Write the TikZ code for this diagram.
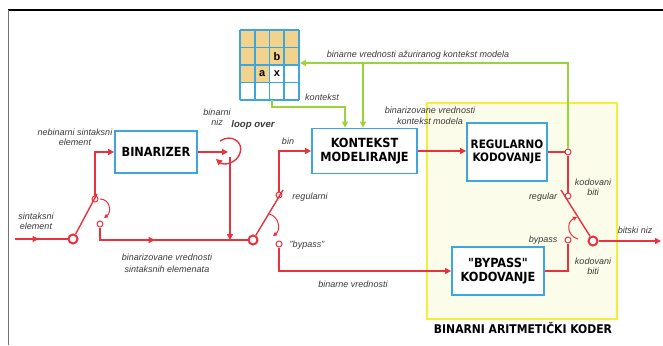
\documentclass[tikz,border=0pt]{standalone}
\usepackage{fontspec}
\setmainfont{Liberation Sans}
\newfontfamily\boxfont{DejaVu Sans Condensed}
\usetikzlibrary{arrows.meta,decorations.markings}
\definecolor{redl}{HTML}{E8333F}
\definecolor{bluel}{HTML}{3DA5E0}
\definecolor{greenl}{HTML}{98D43A}
\definecolor{yell}{HTML}{F2EE3A}
\definecolor{yellfill}{HTML}{FCFCEA}
\definecolor{tanc}{HTML}{F2D38E}
\definecolor{lbl}{HTML}{3A3A3A}
\tikzset{
  blk/.style={draw=bluel, line width=1.8pt, fill=white, font=\boxfont\bfseries\fontsize{12.6}{14}\selectfont, align=center, inner sep=0pt},
  rline/.style={draw=redl, line width=1.4pt},
  rarr/.style={rline, -{Triangle[length=6pt,width=6pt]}},
  rsm/.style={draw=redl, line width=1pt, -{Triangle[length=4pt,width=4pt]}},
  garr/.style={draw=greenl, line width=1.4pt, -{Triangle[length=6pt,width=6pt]}},
  midarr/.style={postaction={decorate}, decoration={markings, mark=at position #1 with {\arrow{Triangle[length=6pt,width=6pt]}}}},
  contact/.style={circle, draw=redl, line width=1pt, fill=white, minimum size=6pt, inner sep=0pt},
  pivot/.style={circle, draw=redl, line width=2pt, fill=white, minimum size=9pt, inner sep=0pt},
  lab/.style={font=\itshape\fontsize{9}{10}\selectfont, text=lbl, align=center, inner sep=0pt},
}
\begin{document}
\begin{tikzpicture}[x=1pt,y=-1pt]
\useasboundingbox (0,0) rectangle (663,345);
% frame
\draw[black, line width=1.2pt] (8,10) -- (663,10);
\draw[black!55, line width=1.6pt] (8.5,10) -- (8.5,345);

% yellow coder region
\node[draw=yell, fill=yellfill, line width=1.8pt, minimum width=190pt, minimum height=216pt, inner sep=0pt] (coder) at (522,211) {};
\node[font=\boxfont\bfseries\fontsize{12}{13}\selectfont, inner sep=0pt] (coderlab) at (523,328) {BINARNI ARITMETIČKI KODER};

% context grid
\node[minimum width=59pt, minimum height=70pt, inner sep=0pt] (grid) at (269.5,65) {};
\foreach \r/\cols in {0/{0,1,2,3},1/{0,1,2,3},2/{0,1}} {
  \foreach \c in \cols {
    \fill[tanc] (240+\c*14.75,30+\r*17.5) rectangle (240+\c*14.75+14.75,30+\r*17.5+17.5);
  }
}
\foreach \i in {0,1,2,3,4} {
  \draw[bluel, line width=1.6pt] (240+\i*14.75,30) -- (240+\i*14.75,100);
  \draw[bluel, line width=1.6pt] (240,30+\i*17.5) -- (299,30+\i*17.5);
}
\node[font=\bfseries\fontsize{11}{11}\selectfont] (cb) at (276.9,56.2) {b};
\node[font=\bfseries\fontsize{11}{11}\selectfont] (ca) at (262.1,73.7) {a};
\node[font=\bfseries\fontsize{11}{11}\selectfont] (cx) at (276.9,73.7) {x};

% blocks
\node[blk, minimum width=82pt, minimum height=42pt] (bin) at (156,152) {BINARIZER};
\node[blk, minimum width=105pt, minimum height=45pt] (ctx) at (364.5,151) {KONTEKST\\MODELIRANJE};
\node[blk, minimum width=80pt, minimum height=58pt, font=\boxfont\bfseries\fontsize{11.6}{13.5}\selectfont] (reg) at (507,152) {REGULARNO\\KODOVANJE};
\node[blk, minimum width=92pt, minimum height=48pt] (byp) at (498,271) {"BYPASS"\\KODOVANJE};

% switch 1
\coordinate (in) at (15,239);
\node[pivot] (p1) at (73,239) {};
\node[contact] (c1a) at (95,199) {};
\node[contact] (c1b) at (100,224) {};
\coordinate (arm1) at (97,194);
\draw[rline, midarr=0.45] (in) -- (p1);
\draw[rline] (p1) -- (arm1);
\draw[rsm] (100,199) .. controls (110,199) and (112,212) .. (104,218);
\draw[rarr] (c1a) |- (bin.west);

% loop over
\coordinate (loopin) at (228,152);
\coordinate (loopout) at (230,157);
\draw[rarr] (bin.east) -- (loopin);
\draw[rarr] (220,141) .. controls (232,133) and (244,143) .. (240,153) .. controls (237,163) and (224,166) .. (216,159);

% switch 2
\node[pivot] (p2) at (253,240) {};
\node[contact] (c2a) at (279,195) {};
\node[contact] (c2b) at (279,244) {};
\coordinate (arm2) at (283,190);
\coordinate (join) at (230,240);
\draw[rline, midarr=0.42] (c1b) |- (p2);
\draw[rarr] (loopout) -- (join);
\draw[rline] (p2) -- (arm2);
\draw[rsm] (269,214) .. controls (279,216) and (281,230) .. (273,236);
\draw[rarr] (c2a) |- (ctx.west);
\draw[rarr] (c2b) |- (byp.west);

% context modelling to regular coding
\draw[rarr] (ctx.east) -- (ctx.east -| reg.west);

% switch 3
\node[contact] (c3t) at (568,152) {};
\node[contact] (c3a) at (568,196) {};
\node[contact] (c3b) at (568,240) {};
\node[pivot] (p3) at (593,241) {};
\coordinate (arm3) at (561,190);
\coordinate (out) at (661,241);
\draw[rline] (reg.east) -- (c3t);
\draw[rline] (c3t) -- (c3a);
\draw[rline] (byp.east) -| (c3b);
\draw[rline] (p3) -- (arm3);
\draw[rsm] (578,239) .. controls (567,236) and (566,222) .. (577,217);
\draw[rarr] (p3) -- (out);

% green context feedback
\coordinate (gin) at (300,63);
\coordinate (gbr) at (363,63);
\coordinate (gk) at (272,100);
\coordinate (gk2) at (345,107);
\draw[garr] (c3t) |- (gin);
\draw[garr] (gbr) -- (gbr |- ctx.north);
\draw[garr] (gk) |- (gk2) -- (gk2 |- ctx.north);

% labels
\node[lab] (l1) at (75,137.5) {nebinarni sintaksni\\element};
\node[lab] (l2) at (36,221) {sintaksni\\element};
\node[lab, align=center] (l3) at (167,263.5) {binarizovane vrednosti\\[2pt]sintaksnih  elemenata};
\node[lab] (l4) at (217,117) {binarni\\niz};
\node[lab, font=\bfseries\itshape\fontsize{9.6}{10}\selectfont] (l5) at (253,125) {loop over};
\node[lab] (l6) at (288,141) {bin};
\node[lab] (l7) at (310,197) {regularni};
\node[lab] (l8) at (307,245) {"bypass"};
\node[lab] (l9) at (353,284) {binarne vrednosti};
\node[lab] (l10) at (430,116) {binarizovane vrednosti\\[1pt]kontekst modela};
\node[lab] (l11) at (418,55) {binarne vrednosti ažuriranog kontekst modela};
\node[lab] (l12) at (322,97) {kontekst};
\node[lab] (l13) at (593,187.5) {kodovani\\biti};
\node[lab] (l14) at (593,266) {kodovani\\biti};
\node[lab] (l15) at (543,197) {regular};
\node[lab] (l16) at (543,240) {bypass};
\node[lab] (l17) at (635,230) {bitski niz};
\end{tikzpicture}
\end{document}
